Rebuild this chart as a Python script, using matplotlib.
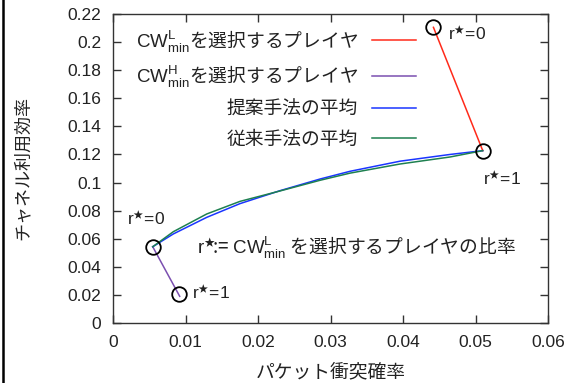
"""Channel utilisation vs packet collision probability (r* sweep)."""

import matplotlib

matplotlib.use("Agg")
import matplotlib.pyplot as plt
from matplotlib.lines import Line2D
import numpy as np

plt.rcParams["font.family"] = ["Liberation Sans", "Noto Sans CJK JP", "DejaVu Sans"]
plt.rcParams["mathtext.fontset"] = "custom"
plt.rcParams["mathtext.rm"] = "Liberation Sans"
plt.rcParams["mathtext.it"] = "Liberation Sans"
plt.rcParams["mathtext.fallback"] = "stixsans"

JP = "Noto Sans CJK JP"
TXT = "#222222"
NUM_SIZE = 12.5
JP_SIZE = 13.5

# data
low_x = [0.0442, 0.0510]          # players choosing CW^L_min, r*=0 -> r*=1
low_y = [0.2105, 0.1227]
high_x = [0.00548, 0.0092]        # players choosing CW^H_min, r*=0 -> r*=1
high_y = [0.0543, 0.0190]
prop_x = [0.00548, 0.00832, 0.01292, 0.01752, 0.02303, 0.02855, 0.03269, 0.03959, 0.04649, 0.05099]
prop_y = [0.0543, 0.0634, 0.0752, 0.0850, 0.0942, 0.1025, 0.1080, 0.1152, 0.1200, 0.1227]
conv_x = [0.00548, 0.00832, 0.01292, 0.01752, 0.02303, 0.02855, 0.03269, 0.03959, 0.04649, 0.05099]
conv_y = [0.0543, 0.0650, 0.0776, 0.0866, 0.0940, 0.1016, 0.1067, 0.1132, 0.1182, 0.1227]
circle_x = [0.0442, 0.0510, 0.00548, 0.0091]
circle_y = [0.2105, 0.1227, 0.0543, 0.0206]

labels = [
    r"$\mathrm{CW}^{\mathrm{L}}_{\mathrm{min}}$を選択するプレイヤ",
    r"$\mathrm{CW}^{\mathrm{H}}_{\mathrm{min}}$を選択するプレイヤ",
    "提案手法の平均",
    "従来手法の平均",
]
colors = ["#ff2a1a", "#7b4fb0", "#1a35ff", "#1e8050"]

fig = plt.figure(figsize=(5.77, 3.83), dpi=100)
ax = fig.add_axes([113 / 577, 1 - 323 / 383, 435 / 577, 309 / 383])

ax.plot(low_x, low_y, color=colors[0], lw=1.1, label=labels[0])
ax.plot(high_x, high_y, color=colors[1], lw=1.1, label=labels[1])
ax.plot(prop_x, prop_y, color=colors[2], lw=1.1, label=labels[2])
ax.plot(conv_x, conv_y, color=colors[3], lw=1.1, label=labels[3])
ax.plot(circle_x, circle_y, ls="none", marker="o", ms=10.5, mfc="none",
        mec="black", mew=1.3)

star_kw = dict(fontsize=NUM_SIZE, color=TXT, family="Liberation Sans", va="baseline")
ax.text(0.04621, 0.2015, r"r$^{\bigstar}$=0", **star_kw)
ax.text(0.05103, 0.0983, r"r$^{\bigstar}$=1", **star_kw)
ax.text(0.00197, 0.0698, r"r$^{\bigstar}$=0", **star_kw)
ax.text(0.01086, 0.0171, r"r$^{\bigstar}$=1", **star_kw)
ax.text(0.01163, 0.0498,
        r"$\mathrm{r}^{\bigstar}\!$:= $\mathrm{CW}^{\mathrm{L}}_{\mathrm{min}}$ を選択するプレイヤの比率",
        fontsize=JP_SIZE, color=TXT, family=JP, va="baseline")

ax.set_xlim(0, 0.06)
ax.set_ylim(0, 0.22)
ax.set_xticks(np.arange(0, 0.061, 0.01))
ax.set_yticks(np.arange(0, 0.221, 0.02))
ax.set_xticklabels(["0", "0.01", "0.02", "0.03", "0.04", "0.05", "0.06"])
ax.set_yticklabels(["0", "0.02", "0.04", "0.06", "0.08", "0.1", "0.12",
                    "0.14", "0.16", "0.18", "0.2", "0.22"])
ax.tick_params(direction="in", length=5.5, width=1.0, color="#333333",
               top=True, right=True, labelsize=NUM_SIZE, labelcolor=TXT, pad=8.5)
for s in ax.spines.values():
    s.set_color("#333333")
    s.set_linewidth(1.0)

ax.set_xlabel("パケット衝突確率", family=JP, fontsize=JP_SIZE, color=TXT)
ax.set_ylabel("チャネル利用効率", family=JP, fontsize=13, color=TXT)
ax.xaxis.set_label_coords(0.5, -0.123)
ax.yaxis.set_label_coords(-0.186, 0.5)

leg = ax.legend(loc="upper right", bbox_to_anchor=(0.6966, 0.955), frameon=False,
                markerfirst=False, handlelength=2.35, handletextpad=0.75,
                labelspacing=0.5, borderaxespad=0, borderpad=0,
                prop={"family": JP, "size": JP_SIZE})
for t in leg.get_texts():
    t.set_color(TXT)

fig.add_artist(Line2D([2.5 / 577, 2.5 / 577], [0, 1], color="black", lw=1.8))

fig.savefig("out.png", dpi=100)
